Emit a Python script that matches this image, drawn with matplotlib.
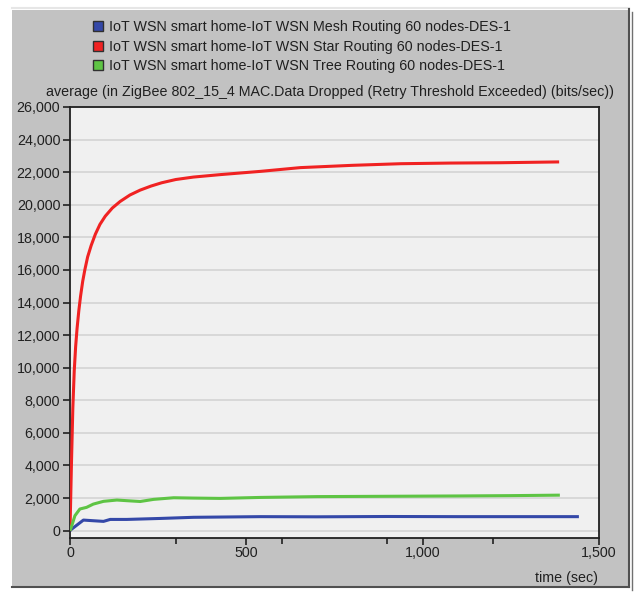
import matplotlib
matplotlib.use("Agg")
import matplotlib.pyplot as plt
from matplotlib.patches import Rectangle, Patch
from matplotlib.ticker import FuncFormatter

plt.rcParams['font.family'] = ['Liberation Sans', 'DejaVu Sans']

# average MAC data dropped (bits/sec) vs simulation time (sec)
mesh_t = [0, 5, 38, 66, 95, 114, 161, 256, 350, 540, 700, 900, 1100, 1300, 1443]
mesh_v = [0, 100, 650, 610, 570, 690, 690, 750, 820, 860, 850, 870, 860, 860, 860]

star_t = [0, 4, 8, 12, 16, 20, 25, 30, 36, 42, 50, 60, 72, 85, 100, 120, 142, 170,
          199, 230, 260, 300, 350, 426, 540, 653, 800, 938, 1080, 1222, 1387]
star_v = [0, 4000, 7500, 9800, 11300, 12400, 13500, 14400, 15300, 16000, 16800,
          17500, 18200, 18800, 19300, 19800, 20200, 20600, 20900, 21150, 21350,
          21550, 21700, 21850, 22050, 22280, 22420, 22520, 22560, 22580, 22630]

tree_t = [0, 5, 14, 28, 47, 66, 95, 133, 161, 199, 237, 294, 350, 426, 540, 700,
          900, 1100, 1250, 1389]
tree_v = [0, 300, 920, 1330, 1430, 1630, 1800, 1880, 1840, 1790, 1920, 2020, 2000,
          1980, 2040, 2090, 2110, 2130, 2150, 2180]

labels = ["IoT WSN smart home-IoT WSN Mesh Routing 60 nodes-DES-1",
          "IoT WSN smart home-IoT WSN Star Routing 60 nodes-DES-1",
          "IoT WSN smart home-IoT WSN Tree Routing 60 nodes-DES-1"]
colors = ["#3448a8", "#f02222", "#5ec444"]

W, H = 634, 592
FS = 10.3
fig = plt.figure(figsize=(W / 100, H / 100), dpi=100)
fig.patch.set_facecolor("white")

# grey panel with a sunken right/bottom edge
fig.add_artist(Rectangle((12 / W, 1 - 587 / H), 617 / W, 577 / H,
                         transform=fig.transFigure, facecolor="#c2c2c2",
                         edgecolor="none", zorder=-5))
fig.add_artist(plt.Line2D([12 / W, 629 / W], [1 - 8 / H, 1 - 8 / H],
                          transform=fig.transFigure, color="#e6e6e6", lw=1.5, zorder=-4))
fig.add_artist(plt.Line2D([629 / W, 629 / W], [1 - 587 / H, 1 - 9 / H],
                          transform=fig.transFigure, color="#505050", lw=1.5, zorder=-4))
fig.add_artist(plt.Line2D([632 / W, 632 / W], [1 - 590 / H, 1 - 12 / H],
                          transform=fig.transFigure, color="#707070", lw=1, zorder=-4))
fig.add_artist(plt.Line2D([12 / W, 629 / W], [1 - 587 / H, 1 - 587 / H],
                          transform=fig.transFigure, color="#505050", lw=1.5, zorder=-4))

ax = fig.add_axes([70 / W, 1 - 538 / H, 529 / W, 431 / H])
ax.set_facecolor("#f0f0f0")

for t, v, c in zip([mesh_t, star_t, tree_t], [mesh_v, star_v, tree_v], colors):
    ax.plot(t, v, color=c, lw=2.2, solid_capstyle="butt", solid_joinstyle="round", zorder=3)

ax.set_xlim(0, 1500)
ax.set_ylim(-450, 26000)
ax.set_yticks(range(0, 26001, 2000))
ax.set_xticks([0, 500, 1000, 1500])
ax.set_xticks([300, 600, 900, 1200], minor=True)
fmt = FuncFormatter(lambda x, p: f"{int(x):,}")
ax.yaxis.set_major_formatter(fmt)
ax.xaxis.set_major_formatter(fmt)
ax.grid(axis="y", color="#d6d6d6", lw=1.3)
ax.set_axisbelow(True)

ax.tick_params(axis="both", which="both", direction="out", color="#202020",
               labelcolor="#202020", labelsize=FS, width=1.2)
ax.tick_params(axis="y", length=5, pad=2)
ax.tick_params(axis="x", which="major", length=5, pad=1)
ax.tick_params(axis="x", which="minor", length=4)
for s in ax.spines.values():
    s.set_color("#202020")
    s.set_linewidth(1.3)

fig.text(46 / W, 1 - 92 / H,
         "average (in ZigBee 802_15_4 MAC.Data Dropped (Retry Threshold Exceeded) (bits/sec))",
         fontsize=FS, color="#202020", va="center", ha="left")
fig.text(598 / W, 1 - 578 / H, "time (sec)", fontsize=FS, color="#202020",
         va="center", ha="right")

handles = [Patch(facecolor=c, edgecolor="#303030", lw=1) for c in colors]
fig.legend(handles, labels, loc="upper left", bbox_to_anchor=(86 / W, 1 - 13 / H),
           frameon=False, fontsize=FS, handlelength=0.7, handleheight=0.7,
           handletextpad=0.4, labelspacing=0.38, borderpad=0, labelcolor="#202020")

fig.savefig("out.png", dpi=100, facecolor="white")
